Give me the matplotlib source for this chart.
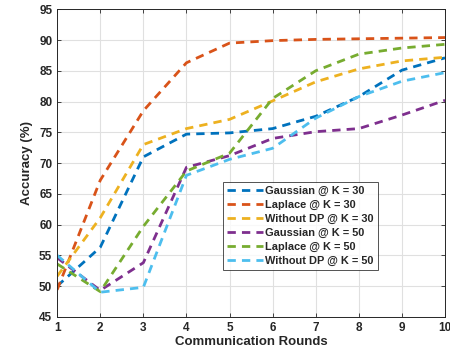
import numpy as np
import matplotlib
matplotlib.use('Agg')
import matplotlib.pyplot as plt

plt.rcParams['font.family'] = ['Liberation Sans', 'DejaVu Sans']
plt.rcParams['font.weight'] = 'bold'

# data
rounds = [1, 2, 3, 4, 5, 6, 7, 8, 9, 10]
gauss_30   = [50.0, 56.3, 71.0, 74.7, 74.9, 75.6, 77.6, 80.8, 85.1, 87.1]
laplace_30 = [49.4, 67.2, 78.5, 86.3, 89.5, 89.9, 90.1, 90.2, 90.3, 90.4]
nodp_30    = [51.6, 61.1, 73.0, 75.6, 77.1, 80.1, 83.2, 85.3, 86.6, 87.2]
gauss_50   = [54.6, 49.3, 53.8, 69.3, 71.2, 74.0, 75.1, 75.6, 77.8, 80.2]
laplace_50 = [53.6, 49.1, 59.7, 68.7, 71.6, 80.5, 85.0, 87.7, 88.7, 89.3]
nodp_50    = [55.0, 49.0, 49.8, 68.0, 70.6, 72.4, 77.3, 80.8, 83.3, 84.7]

labels = ['Gaussian @ K = 30', 'Laplace @ K = 30', 'Without DP @ K = 30',
          'Gaussian @ K = 50', 'Laplace @ K = 50', 'Without DP @ K = 50']
series = [gauss_30, laplace_30, nodp_30, gauss_50, laplace_50, nodp_50]
colors = ['#0072BD', '#D95319', '#EDB120', '#7E2F8E', '#77AC30', '#4DBEEE']

fig = plt.figure(figsize=(4.5, 3.56), dpi=100)
ax = fig.add_axes([0.127, 0.110, 0.862, 0.864])

for ys, lab, c in zip(series, labels, colors):
    ax.plot(rounds, ys, '--', color=c, lw=2, dashes=(3, 2.2), label=lab)

ax.set_xlim(1, 10)
ax.set_ylim(45, 95)
ax.set_xticks(rounds)
ax.set_yticks(np.arange(45, 96, 5))
ax.grid(True, color='#e0e0e0', lw=0.8)
ax.set_axisbelow(True)
ax.tick_params(direction='in', top=True, right=True, labelsize=8.5,
               colors='#262626', length=3, width=0.6)
for s in ax.spines.values():
    s.set_color('#262626')
    s.set_linewidth(0.7)

ax.set_xlabel('Communication Rounds', fontsize=9.5, fontweight='bold',
              color='#262626', labelpad=2)
ax.set_ylabel('Accuracy (%)', fontsize=9.5, fontweight='bold',
              color='#262626', labelpad=4)

leg = ax.legend(loc='upper left', bbox_to_anchor=(0.428, 0.438), fontsize=7.9,
                frameon=True, fancybox=False, edgecolor='#262626',
                handlelength=3.3, handletextpad=0.2, borderpad=0.35,
                labelspacing=0.36, borderaxespad=0)
leg.get_frame().set_linewidth(0.7)
for t in leg.get_texts():
    t.set_fontweight('bold')
    t.set_color('#262626')

fig.savefig('out.png', dpi=100)
